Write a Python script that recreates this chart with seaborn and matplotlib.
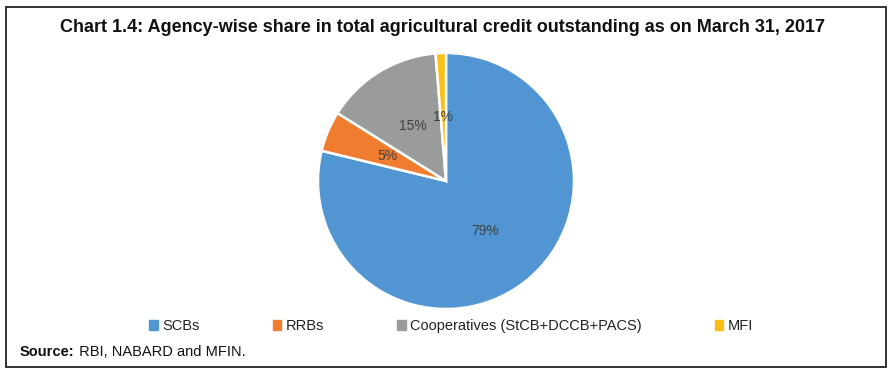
import matplotlib
matplotlib.use("Agg")
import matplotlib.pyplot as plt
import matplotlib.patches as mpatches
import numpy as np
import seaborn as sns

categories = ["SCBs", "RRBs", "Cooperatives (StCB+DCCB+PACS)", "MFI"]
shares = [78.8, 5.1, 14.8, 1.3]
pct_labels = ["79%", "5%", "15%", "1%"]
title = "Chart 1.4: Agency-wise share in total agricultural credit outstanding as on March 31, 2017"
source_bold = "Source:"
source_rest = " RBI, NABARD and MFIN."

sns.set_theme(style="white")
plt.rcParams['font.family'] = ['Liberation Sans', 'DejaVu Sans']

colors = sns.color_palette(["#5196D3", "#EF7C2F", "#9A9B9B", "#FDBF16"])

W, H = 896, 382
fig = plt.figure(figsize=(W / 100, H / 100), dpi=100)

# frame
fig.patches.append(mpatches.Rectangle((6 / W, 1 - 367 / H), 880 / W, 360 / H,
                                      transform=fig.transFigure, fill=False,
                                      edgecolor="#222222", linewidth=1.3))

cx, cy, r = 446, 181, 128
ax = fig.add_axes([(cx - r) / W, 1 - (cy + r) / H, 2 * r / W, 2 * r / H])
wedges, texts = ax.pie(shares, colors=colors, startangle=90, counterclock=False,
                       radius=1.0, wedgeprops=dict(edgecolor="white", linewidth=1.8))
for w, lab in zip(wedges, pct_labels):
    ang = np.deg2rad((w.theta1 + w.theta2) / 2)
    ax.text(0.5 * np.cos(ang), 0.5 * np.sin(ang), lab, ha="center", va="center",
            fontsize=10, color="#404040")
ax.set_xlim(-1, 1)
ax.set_ylim(-1, 1)
ax.set_aspect("equal")
ax.axis("off")

fig.text(442 / W, 1 - 28 / H, title, ha="center", va="center",
         fontsize=13, fontweight="bold", color="#111111")

handles = [mpatches.Patch(color=c, label=l) for c, l in zip(colors, categories)]
fig.legend(handles=handles, loc="center left", bbox_to_anchor=(136 / W, 1 - 326 / H),
           ncol=4, frameon=False, fontsize=10.5, handlelength=0.6, handleheight=0.7,
           handletextpad=0.3, columnspacing=5.0, labelcolor="#222222")

t1 = fig.text(20 / W, 1 - 352 / H, source_bold, ha="left", va="center",
              fontsize=10.5, fontweight="bold", color="#111111")
fig.canvas.draw()
bb = t1.get_window_extent(renderer=fig.canvas.get_renderer())
fig.text(bb.x1 / W, 1 - 352 / H, source_rest, ha="left", va="center",
         fontsize=10.5, color="#111111")

fig.savefig("out.png", dpi=100)
